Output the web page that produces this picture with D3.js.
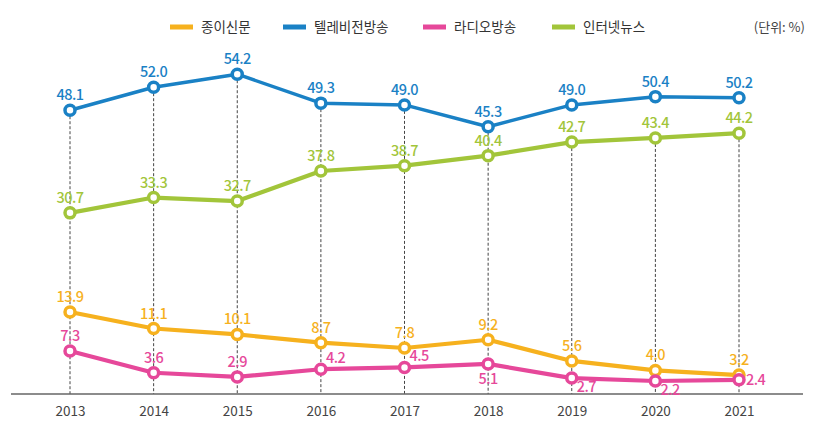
<!DOCTYPE html>
<html>
<head>
<meta charset="utf-8">
<title>매체별 뉴스 이용률</title>
<script src="https://d3js.org/d3.v7.min.js"></script>
<style>
  body { margin: 0; background: #fff; }
  text { font-family: "Noto Sans CJK KR", "Noto Sans", sans-serif; }
</style>
</head>
<body>
<script>
// data
var years = ["2013", "2014", "2015", "2016", "2017", "2018", "2019", "2020", "2021"];
var paper = [13.9, 11.1, 10.1, 8.7, 7.8, 9.2, 5.6, 4.0, 3.2];
var tv    = [48.1, 52.0, 54.2, 49.3, 49.0, 45.3, 49.0, 50.4, 50.2];
var radio = [7.3, 3.6, 2.9, 4.2, 4.5, 5.1, 2.7, 2.2, 2.4];
var web   = [30.7, 33.3, 32.7, 37.8, 38.7, 40.4, 42.7, 43.4, 44.2];
var seriesNames = ["종이신문", "텔레비전방송", "라디오방송", "인터넷뉴스"];

var colors = ["#F6B11E", "#1A81C5", "#E6489A", "#A2C53A"];
// where each value label sits relative to its marker
var labelPos = [
  ["top","top","top","top","top","top","top","top","top"],
  ["top","top","top","top","top","top","top","top","top"],
  ["top","top","top","tr","tr","bottom","br","br","right"],
  ["top","top","top","top","top","top","top","top","top"]
];
// the series the dashed guide starts from, per year
var guideFrom = [1, 1, 1, 1, 1, 1, 3, 3, 3];

var series = [paper, tv, radio, web].map(function(v, i) {
  return { name: seriesNames[i], values: v, color: colors[i], pos: labelPos[i] };
});

var W = 818, H = 433;
var svg = d3.select("body").append("svg").attr("width", W).attr("height", H);

var x = d3.scalePoint().domain(years).range([70, 739]);
var y = d3.scaleLinear().domain([0, 55]).range([394, 394 - 55 * 5.9]);

// dashed guides
svg.append("g").selectAll("line")
  .data(years)
  .enter().append("line")
    .attr("x1", function(d) { return x(d); })
    .attr("x2", function(d) { return x(d); })
    .attr("y1", function(d, i) { return y(series[guideFrom[i]].values[i]) + 6; })
    .attr("y2", 394)
    .attr("stroke", "#444")
    .attr("stroke-width", 1)
    .attr("stroke-dasharray", "3,2");

// x axis
var axis = svg.append("g").attr("transform", "translate(0,394)")
  .call(d3.axisBottom(x).tickSize(0).tickPadding(12));
axis.select(".domain").remove();
axis.append("line").attr("x1", 11).attr("x2", 803).attr("stroke", "#666").attr("stroke-width", 1.3);
axis.selectAll(".tick text")
  .attr("font-size", 13.5)
  .attr("fill", "#444")
  .style("font-family", "'Noto Sans CJK KR', sans-serif");

var line = d3.line()
  .x(function(d, i) { return x(years[i]); })
  .y(function(d) { return y(d); });

var g = svg.append("g").selectAll("g")
  .data(series)
  .enter().append("g");

g.append("path")
  .attr("d", function(d) { return line(d.values); })
  .attr("fill", "none")
  .attr("stroke", function(d) { return d.color; })
  .attr("stroke-width", function(d, i) { return i == 1 ? 3.5 : 4.2; })
  .attr("stroke-linejoin", "round");

g.each(function(s) {
  var sel = d3.select(this);
  sel.selectAll("circle")
    .data(s.values)
    .enter().append("circle")
      .attr("cx", function(d, i) { return x(years[i]); })
      .attr("cy", function(d) { return y(d); })
      .attr("r", 5)
      .attr("fill", "#fff")
      .attr("stroke", s.color)
      .attr("stroke-width", 3.5);

  sel.selectAll("text")
    .data(s.values)
    .enter().append("text")
      .text(function(d) { return d.toFixed(1); })
      .attr("x", function(d, i) {
        var p = s.pos[i], cx = x(years[i]);
        if (p == "tr") return cx + 5;
        if (p == "br") return cx + 5;
        if (p == "right") return cx + 7;
        return cx;
      })
      .attr("y", function(d, i) {
        var p = s.pos[i], cy = y(d);
        if (p == "top") return cy - 10;
        if (p == "tr") return cy - 6;
        if (p == "bottom") return cy + 20;
        if (p == "br") return cy + 14;
        return cy + 5;
      })
      .attr("text-anchor", function(d, i) {
        var p = s.pos[i];
        return (p == "tr" || p == "br" || p == "right") ? "start" : "middle";
      })
      .attr("font-size", 14.5)
      .attr("font-weight", 500)
      .attr("letter-spacing", -0.5)
      .attr("fill", s.color);
});

// legend
var legendX = [170, 283, 423, 552];
var legend = svg.append("g").selectAll("g")
  .data(series)
  .enter().append("g")
    .attr("transform", function(d, i) { return "translate(" + legendX[i] + ",27)"; });
legend.append("rect")
  .attr("x", 0).attr("y", -2.5).attr("width", 23).attr("height", 5)
  .attr("fill", function(d) { return d.color; });
legend.append("text")
  .attr("x", 31).attr("y", 5)
  .attr("font-size", 13.5)
  .attr("fill", "#333")
  .text(function(d) { return d.name; });

svg.append("text")
  .attr("x", 805).attr("y", 32)
  .attr("text-anchor", "end")
  .attr("font-size", 13)
  .attr("fill", "#444")
  .text("(단위: %)");
</script>
</body>
</html>
